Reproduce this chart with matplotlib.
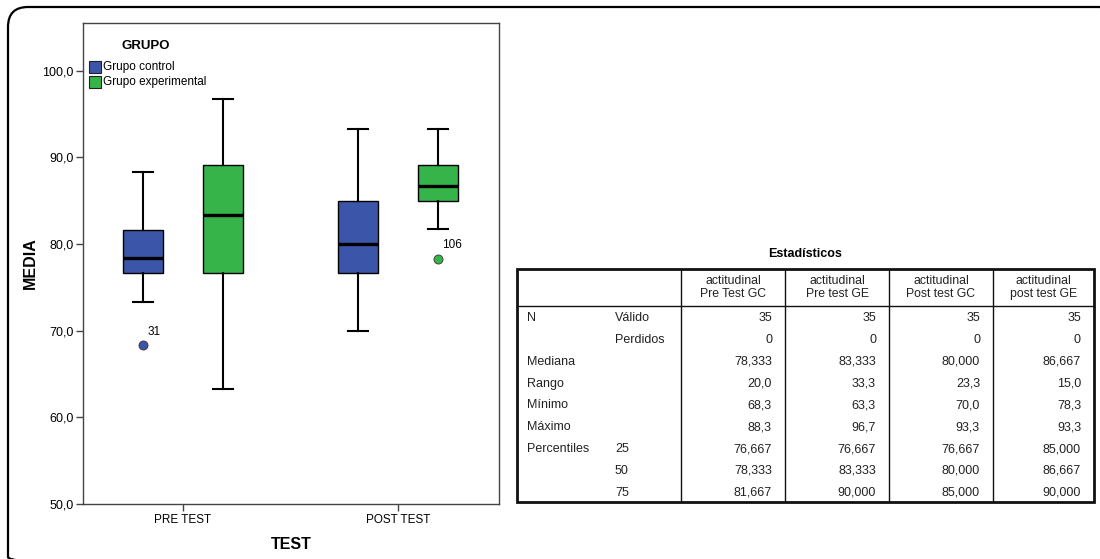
import matplotlib
matplotlib.use('Agg')
import matplotlib.pyplot as plt
from matplotlib.patches import FancyBboxPatch, Rectangle

plt.rcParams['font.family'] = ['Liberation Sans', 'DejaVu Sans']

# Datos del diagrama de cajas (actitudinal, por grupo y momento)
categories = ['PRE TEST', 'POST TEST']
groups = ['Grupo control', 'Grupo experimental']
group_colors = ['#3b55a8', '#36b449']

# orden: [pre GC, pre GE, post GC, post GE]
whisker_low = [73.3, 63.3, 70.0, 81.7]
q1_values = [76.667, 76.667, 76.667, 85.0]
median_values = [78.333, 83.333, 80.0, 86.667]
q3_values = [81.667, 89.167, 85.0, 89.167]
whisker_high = [88.3, 96.7, 93.3, 93.3]
outliers = [[68.3], [], [], [78.3]]
outlier_ids = [['31'], [], [], ['106']]

# Tabla de estadisticos
col_headers = ['actitudinal\nPre Test GC', 'actitudinal\nPre test GE',
               'actitudinal\nPost test GC', 'actitudinal\npost test GE']
row_labels = [('N', 'Válido'), ('', 'Perdidos'), ('Mediana', ''), ('Rango', ''),
              ('Mínimo', ''), ('Máximo', ''), ('Percentiles', '25'), ('', '50'), ('', '75')]
table_values = [
    ['35', '35', '35', '35'],
    ['0', '0', '0', '0'],
    ['78,333', '83,333', '80,000', '86,667'],
    ['20,0', '33,3', '23,3', '15,0'],
    ['68,3', '63,3', '70,0', '78,3'],
    ['88,3', '96,7', '93,3', '93,3'],
    ['76,667', '76,667', '76,667', '85,000'],
    ['78,333', '83,333', '80,000', '86,667'],
    ['81,667', '90,000', '85,000', '90,000'],
]

W, H = 1100, 559
fig = plt.figure(figsize=(W / 100, H / 100), dpi=100)
fig.patch.set_facecolor('white')

# ---- diagrama de cajas ----
ax = fig.add_axes([83 / W, 1 - 504 / H, (499 - 83) / W, (504 - 23) / H])
offset = 0.186
positions = []
stats = []
for i in range(4):
    cat = i // 2
    grp = i % 2
    positions.append(cat + (offset if grp else -offset))
    stats.append(dict(whislo=whisker_low[i], q1=q1_values[i], med=median_values[i],
                      q3=q3_values[i], whishi=whisker_high[i], fliers=outliers[i]))

bp = ax.bxp(stats, positions=positions, widths=0.186, capwidths=0.093,
            patch_artist=True, showfliers=True,
            medianprops=dict(color='black', lw=2.4),
            whiskerprops=dict(color='black', lw=1.5),
            capprops=dict(color='black', lw=1.5),
            boxprops=dict(edgecolor='black', lw=1.0))
for i, box in enumerate(bp['boxes']):
    box.set_facecolor(group_colors[i % 2])
for i, fl in enumerate(bp['fliers']):
    fl.set(marker='o', markersize=6.5, markerfacecolor=group_colors[i % 2],
           markeredgecolor='#333333', markeredgewidth=0.6)
    for val, lab in zip(outliers[i], outlier_ids[i]):
        ax.annotate(lab, (positions[i], val), xytext=(3, 10), textcoords='offset points',
                    ha='left', va='center', fontsize=8.5)

ax.set_xlim(-0.465, 1.47)
ax.set_ylim(50, 105.5)
ax.set_xticks([0, 1])
ax.set_xticklabels(categories, fontsize=8.5)
ax.set_yticks([50, 60, 70, 80, 90, 100])
ax.set_yticklabels(['50,0', '60,0', '70,0', '80,0', '90,0', '100,0'], fontsize=9)
ax.tick_params(direction='out', length=5, width=1, color='#444444', pad=2)
for sp in ax.spines.values():
    sp.set_color('#444444')
    sp.set_linewidth(1.0)
ax.set_ylabel('MEDIA', fontsize=11.5, fontweight='bold', labelpad=3)
ax.set_xlabel('TEST', fontsize=11.5, fontweight='bold', labelpad=8)

# capa en pixeles (encima) para el marco, la leyenda y la tabla
lay = fig.add_axes([0, 0, 1, 1])
lay.set_zorder(5)
lay.set_xlim(0, W)
lay.set_ylim(H, 0)
lay.axis('off')
lay.patch.set_alpha(0)

frame = FancyBboxPatch((8, 7), 1110, 570, boxstyle='round,pad=0,rounding_size=20',
                       fill=False, lw=1.6, ec='black')
lay.add_patch(frame)

# leyenda GRUPO
lay.text(146, 46, 'GRUPO', ha='center', va='center', fontsize=9.5, fontweight='bold')
for k, (name, col) in enumerate(zip(groups, group_colors)):
    y0 = 61 + 15 * k
    lay.add_patch(Rectangle((89, y0), 12, 12, facecolor=col, edgecolor='#222222', lw=0.8))
    lay.text(103, y0 + 6, name, ha='left', va='center', fontsize=8.5)

# ---- tabla de estadisticos ----
t_left, t_right, t_top, t_head, t_bottom = 517, 1094, 269, 306, 502
col_edges = [681, 785, 889, 993, 1094]
row_h = (t_bottom - t_head) / len(row_labels)

lay.text((t_left + t_right) / 2, 254, 'Estadísticos', ha='center', va='center',
         fontsize=9, fontweight='bold')
lay.add_patch(Rectangle((t_left, t_top), t_right - t_left, t_bottom - t_top,
                        fill=False, lw=2.0, ec='#111111'))
lay.plot([t_left, t_right], [t_head, t_head], color='#111111', lw=1.0)
for x in col_edges[:-1]:
    lay.plot([x, x], [t_top, t_bottom], color='#111111', lw=1.0)

for j, head in enumerate(col_headers):
    cx = (col_edges[j] + col_edges[j + 1]) / 2
    lay.text(cx, (t_top + t_head) / 2, head, ha='center', va='center',
             fontsize=8.8, linespacing=1.1, color='#222222')

for r, (lab1, lab2) in enumerate(row_labels):
    cy = t_head + row_h * (r + 0.5) + 1.5
    lay.text(527, cy, lab1, ha='left', va='center', fontsize=9, color='#222222')
    lay.text(615, cy, lab2, ha='left', va='center', fontsize=9, color='#222222')
    for j, val in enumerate(table_values[r]):
        lay.text(col_edges[j + 1] - 13, cy, val, ha='right', va='center',
                 fontsize=9, color='#222222')

fig.savefig('out.png', dpi=100)
